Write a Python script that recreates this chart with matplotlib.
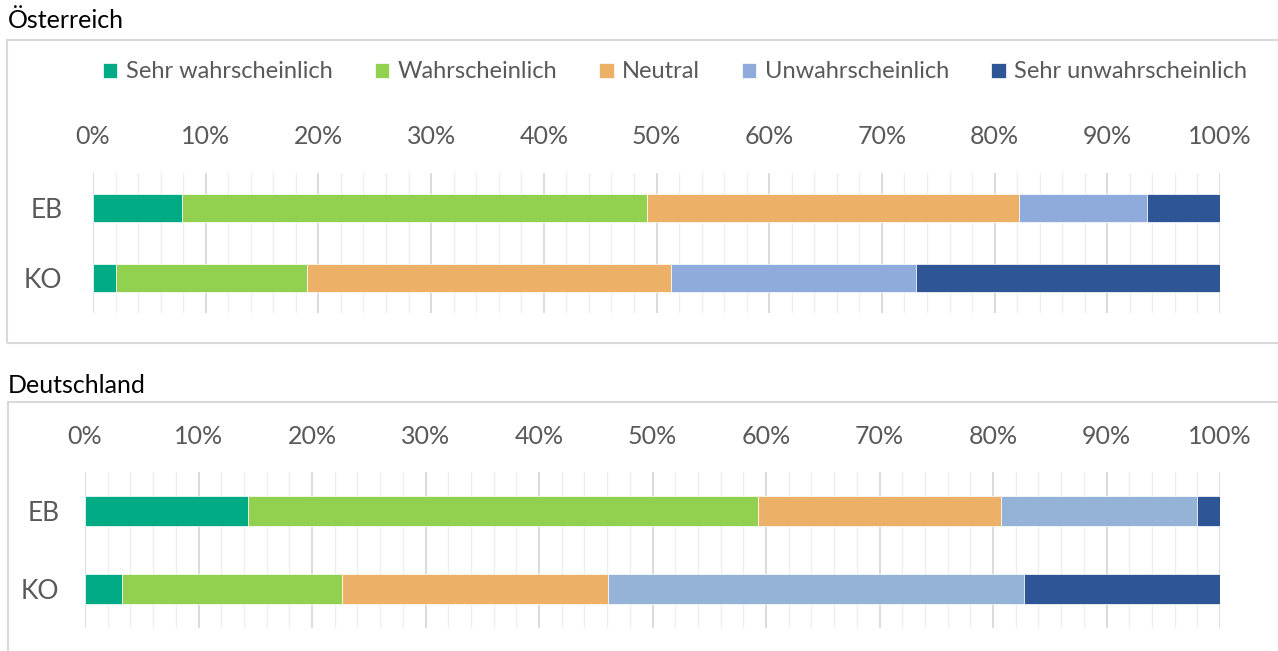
"""Stacked 100% bar charts: likelihood ratings for EB and KO, Austria vs Germany."""

import matplotlib

matplotlib.use("Agg")

import matplotlib.pyplot as plt
from matplotlib.patches import Rectangle
from matplotlib.ticker import MultipleLocator, PercentFormatter

plt.rcParams["font.family"] = ["Lato", "DejaVu Sans"]

CATEGORIES = ["EB", "KO"]
SERIES = [
    "Sehr wahrscheinlich",
    "Wahrscheinlich",
    "Neutral",
    "Unwahrscheinlich",
    "Sehr unwahrscheinlich",
]

# shares in percent, one list per series, order = CATEGORIES
AT_VALUES = [
    [7.9, 2.0],
    [41.3, 17.0],
    [33.0, 32.3],
    [11.3, 21.7],
    [6.5, 27.0],
]
DE_VALUES = [
    [14.4, 3.3],
    [44.9, 19.3],
    [21.4, 23.5],
    [17.3, 36.6],
    [2.0, 17.3],
]

AT_COLORS = ["#00AA84", "#92D050", "#ECB066", "#8EABDB", "#2E5596"]
DE_COLORS = ["#00AA84", "#92D050", "#ECB066", "#95B3D7", "#2E5596"]

W, H = 1278, 651
TEXT_GREY = "#595959"


def px_axes(fig, left, top, right, bottom):
    return fig.add_axes([left / W, 1 - bottom / H, (right - left) / W, (bottom - top) / H])


def draw_panel(ax, values, colors, label_pad, y_pad):
    ypos = [1, 0]  # EB above KO
    left = [0.0, 0.0]
    bars = []
    for name, vals, col in zip(SERIES, values, colors):
        b = ax.barh(ypos, vals, left=left, height=0.39, color=col,
                    edgecolor="white", linewidth=0.5, label=name, zorder=3)
        bars.append(b)
        left = [l + v for l, v in zip(left, vals)]

    ax.set_xlim(0, 100)
    ax.set_ylim(-0.5, 1.5)
    ax.set_yticks(ypos)
    ax.set_yticklabels(CATEGORIES)
    ax.xaxis.set_major_locator(MultipleLocator(10))
    ax.xaxis.set_minor_locator(MultipleLocator(2))
    ax.xaxis.set_major_formatter(PercentFormatter(decimals=0))
    ax.xaxis.tick_top()
    ax.tick_params(axis="x", which="both", length=0, pad=label_pad,
                   labelsize=18, labelcolor=TEXT_GREY)
    ax.tick_params(axis="y", length=0, pad=y_pad, labelsize=19, labelcolor=TEXT_GREY)
    ax.grid(axis="x", which="major", color="#D9D9D9", linewidth=1.3, zorder=0)
    ax.grid(axis="x", which="minor", color="#EFEFEF", linewidth=1.0, zorder=0)
    for spine in ax.spines.values():
        spine.set_visible(False)
    return bars


fig = plt.figure(figsize=(W / 100, H / 100), dpi=100)

# outer chart frames (right / bottom edges run off the picture)
for x0, y0, x1, y1 in [(7, 40, 1290, 343), (8, 402, 1290, 665)]:
    fig.patches.append(Rectangle((x0 / W, 1 - y1 / H), (x1 - x0) / W, (y1 - y0) / H,
                                 transform=fig.transFigure, fill=False,
                                 edgecolor="#D9D9D9", linewidth=1.5))

fig.text(8 / W, 1 - 20 / H, "Österreich", fontsize=18, color="black", va="center")
fig.text(8 / W, 1 - 386 / H, "Deutschland", fontsize=18, color="black", va="center")

ax_at = px_axes(fig, 93, 173, 1220, 313)
bars = draw_panel(ax_at, AT_VALUES, AT_COLORS, label_pad=18, y_pad=22)

ax_de = px_axes(fig, 85, 472, 1220, 628)
draw_panel(ax_de, DE_VALUES, DE_COLORS, label_pad=17, y_pad=18.5)

fig.legend(bars, SERIES, loc="center", bbox_to_anchor=(675 / W, 1 - 72 / H),
           ncol=5, frameon=False, fontsize=17, labelcolor=TEXT_GREY,
           handlelength=0.6, handleheight=0.6, handletextpad=0.35,
           columnspacing=1.8)

fig.savefig("out.png", dpi=100)
